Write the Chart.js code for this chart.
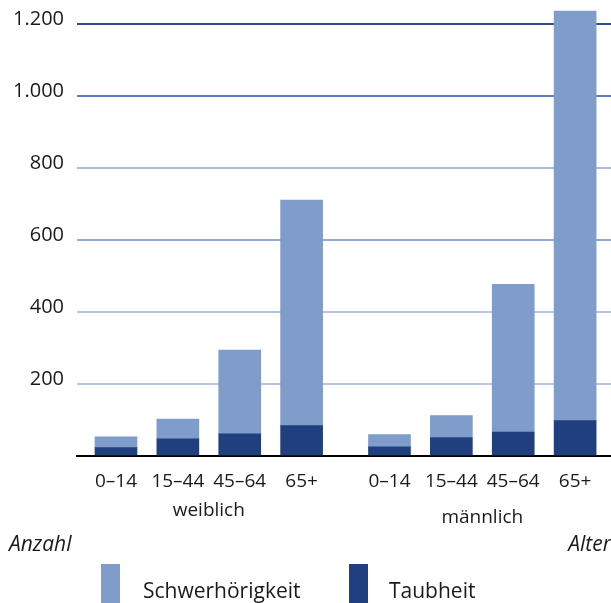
<!DOCTYPE html>
<html>
<head>
<meta charset="utf-8">
<script src="https://cdn.jsdelivr.net/npm/chart.js@4"></script>
<style>
  html, body { margin: 0; padding: 0; background: #fff; overflow: hidden; }
  #wrap { position: relative; width: 611px; height: 603px; overflow: hidden; }
  #chart { position: absolute; left: 0; top: 0; }
  .key { position: absolute; top: 564px; width: 19px; height: 50px; }
  .lbl { position: absolute; top: 576px; font: 21px "Open Sans"; line-height: 28px; color: #1a1a1a; white-space: nowrap; }
</style>
</head>
<body>
<div id="wrap">
  <canvas id="chart" width="611" height="603"></canvas>
  <div class="key" style="left:101px; background:#7f9cca"></div>
  <div class="lbl" style="left:143px">Schwerhörigkeit</div>
  <div class="key" style="left:349px; background:#1f3f7f"></div>
  <div class="lbl" style="left:389px">Taubheit</div>
</div>
<script>
// Values (number of people per age group)
const AGES = ['0–14', '15–44', '45–64', '65+'];
const GROUPS = ['weiblich', 'männlich'];
const TAUB_W = [22, 46, 60, 83];
const TAUB_M = [24, 50, 65, 97];
const SCHWER_W = [30, 55, 233, 627];
const SCHWER_M = [34, 61, 411, 1138];
const Y_TICKS = [200, 400, 600, 800, 1000, 1200];

const LIGHT = '#7f9cca';
const DARK = '#1f3f7f';
const TEXT = '#1a1a1a';
const GROUP_GAP = 1.42; // extra space between the two groups, in bar slots

// x position of a bar: groups side by side with a wider gap between them
function pos(g, i) {
  return g * (AGES.length - 1 + GROUP_GAP) + i;
}

function points(w, m) {
  return w.map((v, i) => ({ x: pos(0, i), y: v }))
    .concat(m.map((v, i) => ({ x: pos(1, i), y: v })));
}

var positions = [];
GROUPS.forEach(function (g, gi) {
  AGES.forEach(function (a, i) { positions.push(pos(gi, i)); });
});

// grid line colours differ per level in the original
var gridColors = { 200: '#b4c6e4', 400: '#b4c6e4', 600: '#8eaad8',
  800: '#a9bde0', 1000: '#5a7dbf', 1200: '#2d4d8c' };

function fmt(v) {
  return String(v).replace(/\B(?=(\d{3})+$)/g, '.');
}

// group names and the two axis captions
const captions = {
  id: 'captions',
  afterDraw(chart) {
    var ctx = chart.ctx;
    var x = chart.scales.x;
    ctx.save();
    ctx.fillStyle = TEXT;
    ctx.textBaseline = 'middle';
    ctx.textAlign = 'center';
    ctx.font = '19px "Open Sans"';
    GROUPS.forEach(function (g, gi) {
      var mid = (pos(gi, 1) + pos(gi, 2)) / 2;
      ctx.fillText(g, x.getPixelForValue(mid), x.top + 55 + gi * 7);
    });
    ctx.font = 'italic 21px "Open Sans"';
    ctx.textAlign = 'left';
    ctx.fillText('Anzahl', 9, x.top + 90);
    ctx.textAlign = 'right';
    ctx.fillText('Alter', chart.width, x.top + 90);
    ctx.restore();
  }
};

new Chart(document.getElementById('chart'), {
  type: 'bar',
  data: {
    datasets: [
      { label: 'Taubheit', data: points(TAUB_W, TAUB_M), backgroundColor: DARK },
      { label: 'Schwerhörigkeit', data: points(SCHWER_W, SCHWER_M), backgroundColor: LIGHT }
    ]
  },
  options: {
    responsive: false,
    animation: false,
    devicePixelRatio: 1,
    barThickness: 42,
    layout: { padding: 0 },
    plugins: {
      legend: { display: false },
      tooltip: { enabled: false }
    },
    scales: {
      x: {
        type: 'linear',
        stacked: true,
        offset: false,
        min: -0.63,
        max: 8.0,
        afterBuildTicks: function (s) {
          s.ticks = positions.map(function (v) { return { value: v }; });
        },
        afterFit: function (s) {
          s.height = 147.5;
          s.paddingLeft = 0;
          s.paddingRight = 0;
        },
        grid: { display: false, drawTicks: false },
        border: { display: true, color: '#000', width: 2 },
        ticks: {
          autoSkip: false,
          maxRotation: 0,
          padding: 15,
          color: TEXT,
          font: { family: 'Open Sans', size: 19 },
          callback: function (v, i) { return AGES[i % AGES.length]; }
        }
      },
      y: {
        stacked: true,
        min: 0,
        max: 1266,
        afterBuildTicks: function (s) {
          s.ticks = Y_TICKS.map(function (v) { return { value: v }; });
        },
        afterFit: function (s) {
          s.width = 77;
          s.paddingTop = 0;
          s.paddingBottom = 0;
        },
        border: { display: false },
        grid: {
          drawTicks: false,
          lineWidth: 2,
          color: function (c) { return gridColors[c.tick.value] || '#b4c6e4'; }
        },
        ticks: {
          padding: 13,
          labelOffset: -4,
          color: TEXT,
          font: { family: 'Open Sans', size: 20 },
          callback: function (v) { return fmt(v); }
        }
      }
    }
  },
  plugins: [captions]
});
</script>
</body>
</html>
